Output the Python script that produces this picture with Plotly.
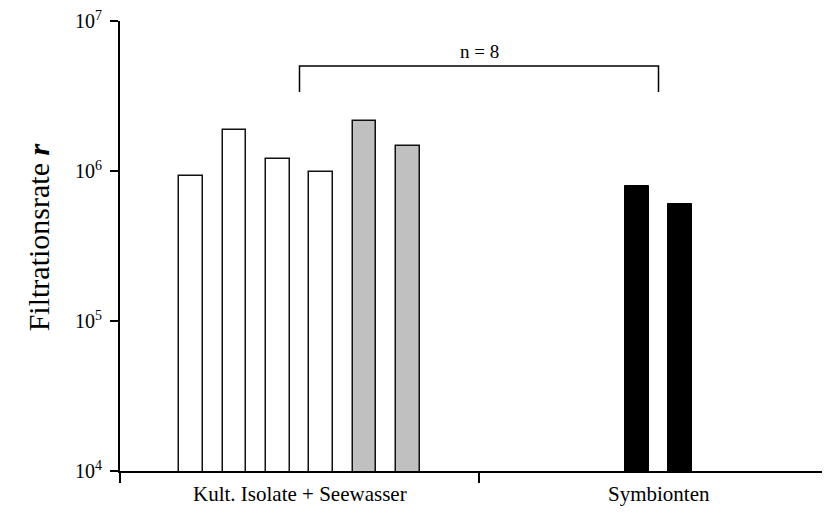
import plotly.graph_objects as go

# ---- data ----
groups = ["Kult. Isolate + Seewasser", "Symbionten"]
white_vals = [9.2e5, 1.89e6, 1.2e6, 9.9e5]      # Kult. Isolate (white)
gray_vals = [2.16e6, 1.47e6]                     # Seewasser (gray)
black_vals = [8.0e5, 6.0e5]                      # Symbionten (black)
ytick_vals = [1e4, 1e5, 1e6, 1e7]
ytick_text = ["10<sup>4</sup>", "10<sup>5</sup>", "10<sup>6</sup>", "10<sup>7</sup>"]
bracket_label = "n = 8"

# ---- layout constants ----
SPACING = 0.121
BAR_W = 0.0655
FONT = "Liberation Serif, Times New Roman, serif"

def positions(group_idx, n):
    c = group_idx + 0.5
    return [c + (i - (n - 1) / 2) * SPACING for i in range(n)]

g1 = white_vals + gray_vals
x1 = positions(0, len(g1))
x2 = positions(1, len(black_vals))

fig = go.Figure()
fig.add_trace(go.Bar(
    x=x1[:len(white_vals)], y=white_vals, width=BAR_W,
    marker=dict(color="white", line=dict(color="#111", width=1.5)),
    hoverinfo="skip", showlegend=False))
fig.add_trace(go.Bar(
    x=x1[len(white_vals):], y=gray_vals, width=BAR_W,
    marker=dict(color="#c0c0c0", line=dict(color="#111", width=1.5)),
    hoverinfo="skip", showlegend=False))
fig.add_trace(go.Bar(
    x=x2, y=black_vals, width=BAR_W,
    marker=dict(color="black", line=dict(color="black", width=1)),
    hoverinfo="skip", showlegend=False))

# bracket between group centres
fig.add_shape(type="path",
              path="M 0.5,0.842 L 0.5,0.9 L 1.5,0.9 L 1.5,0.842",
              xref="x", yref="paper",
              line=dict(color="black", width=1.5))
fig.add_annotation(x=1.0, y=0.905, xref="x", yref="paper",
                   text=bracket_label, showarrow=False, yanchor="bottom",
                   font=dict(family=FONT, size=19, color="black"))

# group labels
for gi, name in enumerate(groups):
    fig.add_annotation(x=gi + 0.5, y=-0.05, xref="x", yref="paper",
                       text=name, showarrow=False, yanchor="middle",
                       font=dict(family=FONT, size=21, color="black"))

# y title
fig.add_annotation(x=-0.115, y=0.52, xref="paper", yref="paper",
                   text="Filtrationsrate <b><i>r</i></b>", textangle=-90,
                   showarrow=False, xanchor="center", yanchor="middle",
                   font=dict(family=FONT, size=30, color="black"))

# page body has an 8px margin; size/margins compensate so the plot sits as in the reference
fig.update_layout(
    width=822, height=509,
    margin=dict(l=112, r=0, t=9, b=46),
    paper_bgcolor="white", plot_bgcolor="white",
    bargap=0,
    xaxis=dict(range=[0, 710 / 359], tickvals=[0, 1, 2], ticktext=["", "", ""],
               ticks="outside", ticklen=10, tickwidth=2, tickcolor="black",
               showline=True, linecolor="black", linewidth=2,
               showgrid=False, zeroline=False, fixedrange=True),
    yaxis=dict(type="log", range=[4, 7], tickvals=ytick_vals, ticktext=ytick_text,
               ticks="outside", ticklen=8, tickwidth=2, tickcolor="black",
               ticklabeloverflow="allow", ticklabelstandoff=4,
               showline=True, linecolor="black", linewidth=2,
               showgrid=False, zeroline=False,
               tickfont=dict(family=FONT, size=20, color="black")),
)

fig.write_html("out.html")
